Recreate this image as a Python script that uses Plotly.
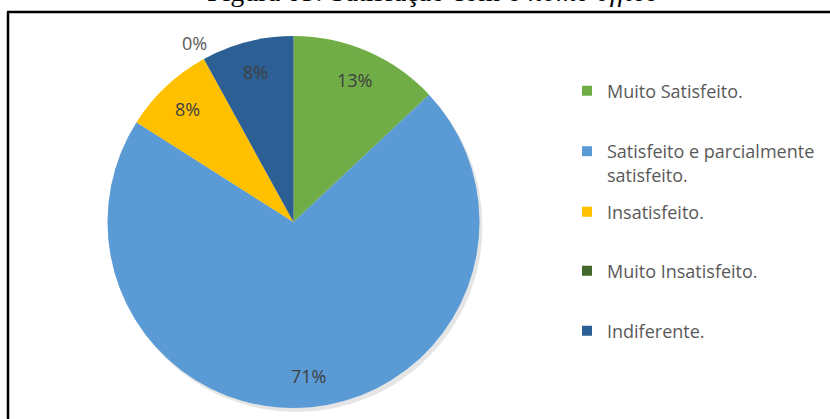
import math
import plotly.graph_objects as go

# Survey answers (percent of respondents)
categories = [
    "Muito Satisfeito.",
    "Satisfeito e parcialmente<br>satisfeito.",
    "Insatisfeito.",
    "Muito Insatisfeito.",
    "Indiferente.",
]
percentages = [13, 71, 8, 0, 8]
slice_colors = ["#70ad47", "#5b9bd5", "#ffc000", "#43682b", "#2c5f94"]

# vertical centre (px from top) of each legend entry
legend_rows = [91, 163, 212, 271, 331]

W, H = 830, 419
cx, cy, r = 293.5, 222.0, 186.0


def pie_domain(x0, y0, rad):
    return dict(x=[(x0 - rad) / W, (x0 + rad) / W],
                y=[(H - y0 - rad) / H, (H - y0 + rad) / H])


fig = go.Figure()

# soft drop shadow under the pie
fig.add_trace(go.Pie(
    values=[sum(percentages)], labels=["shadow"], sort=False,
    marker=dict(colors=["rgba(0,0,0,0.10)"], line=dict(width=0)),
    textinfo="none", hoverinfo="skip", showlegend=False,
    domain=pie_domain(cx + 3, cy + 4, r),
))

fig.add_trace(go.Pie(
    labels=categories,
    values=percentages,
    sort=False,
    direction="clockwise",
    rotation=0,
    marker=dict(colors=slice_colors, line=dict(width=0)),
    textinfo="none",
    hoverinfo="label+percent",
    showlegend=False,
    domain=pie_domain(cx, cy, r),
))

# percentage labels along each slice's bisector
annotations = []
total = sum(percentages)
cum = 0
for v in percentages:
    ang = math.radians(360 * (cum + v / 2) / total)
    cum += v
    rr = r * (0.83 if v > 0 else 1.10)
    px = cx + rr * math.sin(ang)
    py = cy - rr * math.cos(ang)
    annotations.append(dict(
        text=f"{v}%", x=px / W, y=1 - py / H, xref="paper", yref="paper",
        xanchor="center", yanchor="middle", showarrow=False,
        font=dict(family="Open Sans", size=18,
                  color="#404040" if v > 0 else "#595959"),
    ))

annotations.append(dict(
    text="Figura 05: Satisfação com o <i>home office</i>",
    x=432 / W, y=1 - 9 / H, xref="paper", yref="paper",
    xanchor="center", yanchor="bottom", showarrow=False,
    font=dict(family="Liberation Serif", size=28, color="black"),
))

# one legend per entry so each row can sit at its own height
legend_font = dict(family="Open Sans", size=18, color="#595959")
layout_legends = {}
for i, (name, col, row) in enumerate(zip(categories, slice_colors, legend_rows)):
    key = "legend" if i == 0 else f"legend{i + 1}"
    fig.add_trace(go.Scatter(
        x=[None], y=[None], mode="markers", name=name,
        marker=dict(symbol="square", size=10, color=col),
        legend=key, showlegend=True, hoverinfo="skip",
    ))
    layout_legends[key] = dict(
        x=567 / W, y=1 - row / H, xanchor="left", yanchor="middle",
        font=legend_font, valign="top", itemwidth=30,
        bgcolor="rgba(0,0,0,0)", borderwidth=0,
    )

fig.update_layout(
    width=W, height=H,
    margin=dict(l=0, r=0, t=0, b=0),
    paper_bgcolor="white",
    plot_bgcolor="white",
    xaxis=dict(visible=False),
    yaxis=dict(visible=False),
    annotations=annotations,
    shapes=[
        dict(type="line", xref="paper", yref="paper",
             x0=7 / W, x1=1, y0=1 - 12 / H, y1=1 - 12 / H,
             line=dict(color="black", width=2.5)),
        dict(type="line", xref="paper", yref="paper",
             x0=8 / W, x1=8 / W, y0=1 - 12 / H, y1=0,
             line=dict(color="black", width=2.5)),
    ],
    **layout_legends,
)

fig.write_html("out.html")
